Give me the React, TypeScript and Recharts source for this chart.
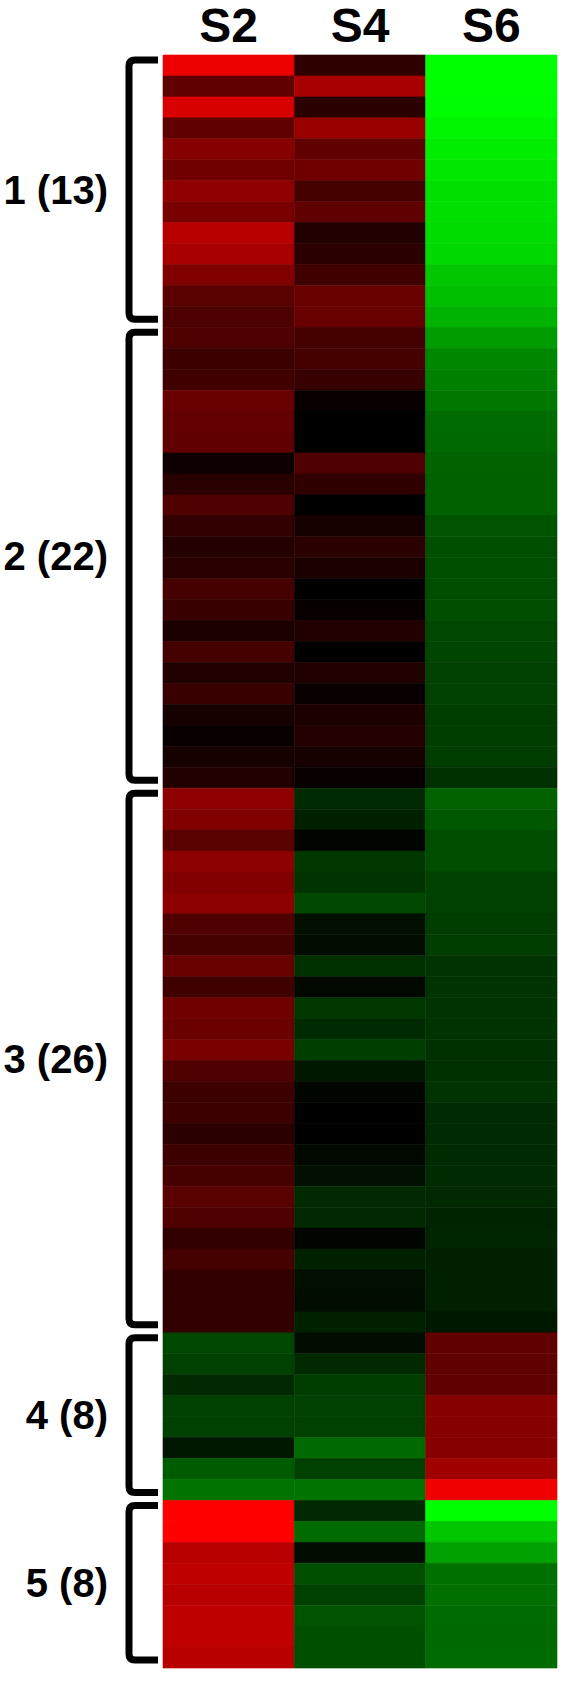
import React from 'react';
import { BarChart, Bar, XAxis, YAxis, Cell, ReferenceArea } from 'recharts';

const samples = ['S2', 'S4', 'S6'];
const groupLabels = ['1 (13)', '2 (22)', '3 (26)', '4 (8)', '5 (8)'];
const groupSizes = [13, 22, 26, 8, 8];

// signed expression intensities: + = red (up), - = green (down)
const s2 = [
  0.93, 0.38, 0.85, 0.38, 0.53, 0.44, 0.57, 0.47, 0.72, 0.66, 0.5, 0.35, 0.3,
  0.31, 0.24, 0.25, 0.41, 0.39, 0.38, 0.06, 0.16, 0.31, 0.2, 0.14, 0.16, 0.28, 0.22, 0.11, 0.27, 0.13, 0.22, 0.09, 0.03, 0.09, 0.13,
  0.56, 0.5, 0.35, 0.55, 0.5, 0.55, 0.31, 0.28, 0.41, 0.25, 0.44, 0.42, 0.47, 0.31, 0.24, 0.24, 0.17, 0.24, 0.28, 0.35, 0.31, 0.2, 0.27, 0.2, 0.2, 0.2,
  -0.28, -0.25, -0.16, -0.25, -0.25, -0.09, -0.36, -0.45,
  1.0, 1.0, 0.72, 0.75, 0.72, 0.75, 0.75, 0.72,
];
const s4 = [
  0.19, 0.66, 0.17, 0.6, 0.38, 0.44, 0.27, 0.38, 0.13, 0.17, 0.25, 0.41, 0.41,
  0.27, 0.28, 0.22, 0.03, 0.0, 0.0, 0.31, 0.19, 0.0, 0.09, 0.17, 0.11, 0.0, 0.03, 0.13, 0.0, 0.13, 0.03, 0.11, 0.14, 0.09, 0.03,
  -0.17, -0.13, -0.02, -0.22, -0.2, -0.28, -0.06, -0.05, -0.19, -0.03, -0.22, -0.17, -0.24, -0.09, -0.02, 0.0, 0.0, -0.03, -0.06, -0.16, -0.16, -0.02, -0.13, -0.06, -0.05, -0.13,
  -0.05, -0.16, -0.24, -0.25, -0.25, -0.41, -0.25, -0.45,
  -0.16, -0.42, -0.05, -0.31, -0.25, -0.33, -0.31, -0.31,
];
const s6 = [
  -1.0, -1.0, -0.99, -0.96, -0.93, -0.91, -0.88, -0.88, -0.86, -0.85, -0.78, -0.75, -0.7,
  -0.61, -0.53, -0.5, -0.47, -0.42, -0.41, -0.39, -0.38, -0.38, -0.33, -0.31, -0.31, -0.3, -0.3, -0.28, -0.27, -0.25, -0.25, -0.24, -0.24, -0.24, -0.19,
  -0.39, -0.35, -0.3, -0.3, -0.25, -0.25, -0.24, -0.24, -0.2, -0.2, -0.2, -0.2, -0.19, -0.19, -0.2, -0.17, -0.17, -0.17, -0.17, -0.16, -0.14, -0.15, -0.13, -0.13, -0.13, -0.09,
  0.38, 0.38, 0.38, 0.53, 0.53, 0.53, 0.63, 0.94,
  -1.0, -0.78, -0.63, -0.44, -0.44, -0.42, -0.41, -0.42,
];

const rowIds = s2.map((_, i) => `gene${i + 1}`);
const table = rowIds.map((id, i) => ({ id, S2: 1, S4: 1, S6: 1, v2: s2[i], v4: s4[i], v6: s6[i] }));

const groups = groupSizes.map((n, gi) => {
  const start = groupSizes.slice(0, gi).reduce((a, b) => a + b, 0);
  return { label: groupLabels[gi], first: rowIds[start], last: rowIds[start + n - 1] };
});

function heat(v: number) {
  const c = Math.round(Math.min(1, Math.abs(v)) * 255);
  return v >= 0 ? `rgb(${c},0,0)` : `rgb(0,${c},0)`;
}

const FONT = '"Liberation Sans", Arial, Helvetica, sans-serif';

const HeaderTick = (props: any) => {
  const { x, payload } = props;
  return (
    <text x={x} y={42} textAnchor="middle" fontSize={48} fontWeight="bold" fontFamily={FONT} fill="#000">
      {samples[Math.floor(payload.value)]}
    </text>
  );
};

const makeBracket = (label: string) => (props: any) => {
  const { x, y, height } = props;
  const top = y + 5;
  const bottom = y + height - 8;
  const vx = x - 34;
  const hx = x - 5;
  const r = 6;
  const d = `M${hx},${top} L${vx + r},${top} Q${vx},${top} ${vx},${top + r} L${vx},${bottom - r} Q${vx},${bottom} ${vx + r},${bottom} L${hx},${bottom}`;
  return (
    <g>
      <path d={d} fill="none" stroke="#000" strokeWidth={7} strokeLinejoin="round" />
      <text x={x - 55} y={(top + bottom) / 2} textAnchor="end" dominantBaseline="central" fontSize={40} fontWeight="bold" fontFamily={FONT} fill="#000">
        {label}
      </text>
    </g>
  );
};

export default function App() {
  return (
    <div style={{ position: 'absolute', left: 0, top: 0, width: 566, height: 1685, background: '#fff' }}>
      <BarChart
        width={566}
        height={1685}
        data={table}
        layout="vertical"
        margin={{ top: 5, right: 9, bottom: 17, left: 163 }}
        barCategoryGap={0}
        barGap={0}
      >
        <XAxis
          type="number"
          domain={[0, 3]}
          ticks={[0.5, 1.5, 2.5]}
          orientation="top"
          axisLine={false}
          tickLine={false}
          height={50}
          interval={0}
          tick={HeaderTick}
        />
        <YAxis type="category" dataKey="id" hide />
        <Bar dataKey="S2" stackId="a" isAnimationActive={false}>
          {table.map((r, i) => (
            <Cell key={i} fill={heat(r.v2)} stroke={heat(r.v2)} strokeWidth={0.6} />
          ))}
        </Bar>
        <Bar dataKey="S4" stackId="a" isAnimationActive={false}>
          {table.map((r, i) => (
            <Cell key={i} fill={heat(r.v4)} stroke={heat(r.v4)} strokeWidth={0.6} />
          ))}
        </Bar>
        <Bar dataKey="S6" stackId="a" isAnimationActive={false}>
          {table.map((r, i) => (
            <Cell key={i} fill={heat(r.v6)} stroke={heat(r.v6)} strokeWidth={0.6} />
          ))}
        </Bar>
        {groups.map((g) => (
          <ReferenceArea key={g.label} y1={g.first} y2={g.last} ifOverflow="visible" shape={makeBracket(g.label)} />
        ))}
      </BarChart>
    </div>
  );
}
